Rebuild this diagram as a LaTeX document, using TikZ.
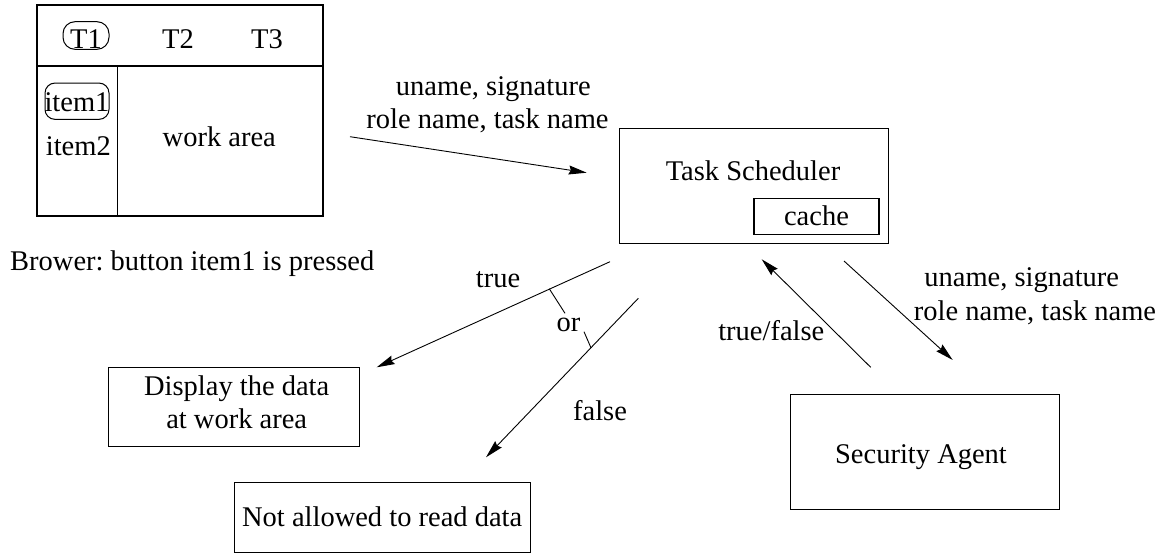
\documentclass[tikz,border=0pt]{standalone}
\usepackage{fontspec}
\setmainfont{Liberation Serif}
\frenchspacing
\usetikzlibrary{arrows.meta}
\begin{document}
\begin{tikzpicture}[x=1pt,y=-1pt,
  every node/.style={font=\fontsize{28.5}{34}\selectfont\frenchspacing, inner sep=0pt},
  box/.style={draw, line width=1.1pt, minimum width=#1},
  lbl/.style={anchor=base},
  btn/.style={draw, line width=1pt, rounded corners=12pt},
  conn/.style={line width=0.9pt},
  arr/.style={conn, -{Stealth[length=18pt,width=9pt,inset=2pt]}}
]
\useasboundingbox (0,0) rectangle (1166,554);

% browser window
\node[box=286pt, minimum height=211pt] (browser) at (180,110.5) {};
\coordinate (hl) at (37,66);
\coordinate (hr) at (323,66);
\coordinate (vt) at (117.7,66);
\coordinate (vb) at (117.7,216);
\draw[line width=1.1pt] (hl) -- (hr);
\draw[line width=1.1pt] (vt) -- (vb);
\node[btn, minimum width=46pt, minimum height=27.6pt] (t1box) at (86,35.5) {};
\node[lbl] (t1) at (86,48.3) {T1};
\node[lbl] (t2) at (178,48.3) {T2};
\node[lbl] (t3) at (267,48.3) {T3};
\node[btn, rounded corners=10pt, minimum width=64pt, minimum height=36.3pt] (i1box) at (77,101.2) {};
\node[lbl] (item1) at (77,111.5) {item1};
\node[lbl] (item2) at (78.3,155) {item2};
\node[lbl] (work) at (219.3,146.7) {work area};
\node[lbl, anchor=base west] (brower) at (10,270) {Brower: button item1 is pressed};

% task scheduler
\node[box=269.4pt, minimum height=115pt] (ts) at (754,185.8) {};
\node[lbl] (tstext) at (753,180.7) {Task Scheduler};
\node[box=125pt, minimum height=35.6pt] (cache) at (816.5,216.5) {};
\node[lbl] (cachetext) at (816.5,225) {cache};

% result boxes
\node[box=251pt, minimum height=79.4pt] (disp) at (233.8,407) {};
\node[lbl] (disp1) at (236.7,395) {Display the data};
\node[lbl] (disp2) at (236.7,428.3) {at work area};
\node[box=295.7pt, minimum height=70pt] (deny) at (382.2,517.7) {};
\node[lbl] (denytext) at (382.2,526.7) {Not allowed to read data};
\node[box=269.3pt, minimum height=115.3pt] (sec) at (924.7,451.7) {};
\node[lbl] (sectext) at (921,463.3) {Security Agent};

% labels
\node[lbl] (l1a) at (493.3,95) {uname, signature};
\node[lbl] (l1b) at (487.5,128.3) {role name, task name};
\node[lbl] (ltrue) at (498,287.3) {true};
\node[lbl] (lfalse) at (600,420) {false};
\node[lbl] (lor) at (568.5,331.7) {or};
\node[lbl] (ltf) at (771.3,340.7) {true/false};
\node[lbl] (l2a) at (1021.7,286.7) {uname, signature};
\node[lbl] (l2b) at (1035,320.7) {role name, task name};

% connector end points
\coordinate (a1s) at (350,136.7);
\coordinate (a1e) at (586.7,172.7);
\coordinate (ats) at (610,261.7);
\coordinate (ate) at (376.7,367.3);
\coordinate (afs) at (638.3,298.3);
\coordinate (afe) at (486,457.3);
\coordinate (tfs) at (870.7,367.3);
\coordinate (tfe) at (761.7,259.3);
\coordinate (uns) at (844,261);
\coordinate (une) at (952.7,360);
\coordinate (or1a) at (549.3,288.8);
\coordinate (or1b) at (565,313.3);
\coordinate (or2a) at (591,347.9);
\coordinate (or2b) at (584,331.7);

\draw[arr] (a1s) -- (a1e);
\draw[arr] (ats) -- (ate);
\draw[arr] (afs) -- (afe);
\draw[arr] (tfs) -- (tfe);
\draw[arr] (uns) -- (une);
\draw[conn] (or1a) -- (or1b);
\draw[conn] (or2a) -- (or2b);
\end{tikzpicture}
\end{document}
